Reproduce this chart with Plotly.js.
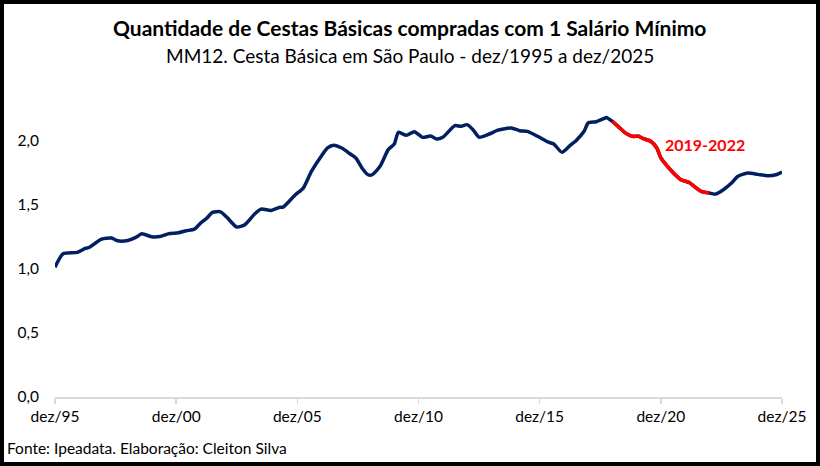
<!DOCTYPE html>
<html>
<head>
<meta charset="utf-8">
<script src="https://cdn.plot.ly/plotly-3.0.1.min.js"></script>
<style>
  body { margin: 0; background: #fff; }
  #wrap { position: relative; width: 820px; height: 466px; }
  #chart { position: absolute; left: 0; top: 0; width: 820px; height: 466px; }
  #frame { position: absolute; left: 0; top: 0; width: 820px; height: 466px;
           box-sizing: border-box; border: 4px solid #000; pointer-events: none; }
</style>
</head>
<body>
<div id="wrap">
  <div id="chart"></div>
  <div id="frame"></div>
</div>
<script>
// datas (mês) e quantidade de cestas (MM12)
var datas = [
  "1995-12", "1996-04", "1996-11", "1997-03", "1997-05", "1997-11", "1998-04", "1998-07",
  "1998-12", "1999-04", "1999-07", "1999-12", "2000-04", "2000-08", "2001-01", "2001-05",
  "2001-09", "2001-12", "2002-03", "2002-06", "2002-10", "2003-01", "2003-06", "2003-10",
  "2004-03", "2004-06", "2004-11", "2005-03", "2005-05", "2005-11", "2006-03", "2006-07",
  "2006-12", "2007-03", "2007-06", "2007-10", "2008-02", "2008-05", "2008-08", "2008-11",
  "2009-01", "2009-05", "2009-09", "2009-12", "2010-02", "2010-06", "2010-10", "2011-02",
  "2011-06", "2011-09", "2011-12", "2012-06", "2012-09", "2012-12", "2013-03", "2013-06",
  "2013-11", "2014-03", "2014-06", "2014-10", "2015-02", "2015-06", "2015-11", "2016-04",
  "2016-07", "2016-11", "2017-03", "2017-06", "2017-10", "2017-12", "2018-04", "2018-08",
  "2018-09", "2018-12", "2019-03", "2019-07", "2019-10", "2020-01", "2020-03", "2020-07",
  "2020-10", "2020-12", "2021-03", "2021-06", "2021-10", "2022-02", "2022-05", "2022-08",
  "2022-12", "2023-03", "2023-07", "2023-11", "2024-02", "2024-07", "2024-12", "2025-05",
  "2025-09", "2025-12"
];
var cestas = [
  1.013, 1.117, 1.128, 1.160, 1.167, 1.232, 1.240, 1.219,
  1.221, 1.245, 1.273, 1.250, 1.252, 1.273, 1.281, 1.297,
  1.310, 1.356, 1.393, 1.440, 1.445, 1.404, 1.326, 1.344,
  1.430, 1.466, 1.456, 1.479, 1.482, 1.578, 1.630, 1.760,
  1.883, 1.943, 1.965, 1.943, 1.898, 1.865, 1.787, 1.734,
  1.734, 1.800, 1.930, 1.974, 2.065, 2.042, 2.070, 2.026,
  2.036, 2.013, 2.026, 2.117, 2.112, 2.125, 2.086, 2.027,
  2.052, 2.080, 2.091, 2.099, 2.078, 2.073, 2.034, 1.990,
  1.974, 1.909, 1.961, 2.000, 2.073, 2.138, 2.148, 2.174,
  2.180, 2.150, 2.110, 2.055, 2.034, 2.034, 2.018, 1.995,
  1.943, 1.865, 1.805, 1.752, 1.695, 1.674, 1.638, 1.604,
  1.591, 1.583, 1.617, 1.669, 1.721, 1.747, 1.737, 1.727,
  1.734, 1.755
];

// período destacado em vermelho
var inicioDestaque = "2018-12";
var fimDestaque = "2022-12";

// marcas do eixo x
var ticksX = ["1995-12-01", "2000-12-01", "2005-12-01", "2010-12-01", "2015-12-01", "2020-12-01", "2025-12-01"];
var ticksXTexto = ["dez/95", "dez/00", "dez/05", "dez/10", "dez/15", "dez/20", "dez/25"];
var ticksY = [0, 0.5, 1, 1.5, 2];

var datasDestaque = [], cestasDestaque = [];
datas.forEach(function (d, i) {
  if (d >= inicioDestaque && d <= fimDestaque) {
    datasDestaque.push(d);
    cestasDestaque.push(cestas[i]);
  }
});

var fonte = "Lato, 'Open Sans', sans-serif";

var serie = {
  x: datas, y: cestas, type: "scatter", mode: "lines",
  line: { color: "#002060", width: 3.5, shape: "spline", smoothing: 0.6 },
  hoverinfo: "none"
};
var destaque = {
  x: datasDestaque, y: cestasDestaque, type: "scatter", mode: "lines",
  line: { color: "#ff0000", width: 3.5, shape: "spline", smoothing: 0.6 },
  hoverinfo: "none"
};

var layout = {
  width: 820, height: 466,
  margin: { l: 55, r: 38, t: 83, b: 69 },
  paper_bgcolor: "#fff", plot_bgcolor: "#fff",
  showlegend: false,
  separators: ",.",
  font: { family: fonte, color: "#000", size: 15 },
  xaxis: {
    type: "date",
    range: ["1995-12-01", "2025-12-01"],
    tickvals: ticksX, ticktext: ticksXTexto,
    showgrid: false, zeroline: false,
    showline: true, linecolor: "#d9d9d9", linewidth: 1.5,
    ticks: "outside", ticklen: 5, tickcolor: "#d9d9d9", tickwidth: 1.5,
    tickfont: { size: 15.5 }
  },
  yaxis: {
    range: [0, 2.45],
    tickvals: ticksY, tickformat: ".1f",
    showgrid: false, zeroline: false, showline: false,
    ticks: "outside", ticklen: 12, tickcolor: "rgba(0,0,0,0)",
    tickfont: { size: 15.5 }
  },
  annotations: [
    {
      text: "<b>Quantidade de Cestas Básicas compradas com 1 Salário Mínimo</b>",
      xref: "paper", yref: "paper", x: 0.488, y: 1.178,
      xanchor: "center", yanchor: "middle", showarrow: false,
      font: { size: 21, color: "#000" }
    },
    {
      text: "MM12. Cesta Básica em São Paulo - dez/1995 a dez/2025",
      xref: "paper", yref: "paper", x: 0.488, y: 1.086,
      xanchor: "center", yanchor: "middle", showarrow: false,
      font: { size: 19, color: "#000" }
    },
    {
      text: "<b>2019-2022</b>",
      xref: "paper", yref: "paper", x: (705 - 55) / 727, y: (397 - 144) / 314,
      xanchor: "center", yanchor: "middle", showarrow: false,
      font: { size: 16, color: "#ff0000" }
    },
    {
      text: "Fonte: Ipeadata. Elaboração: Cleiton Silva",
      xref: "paper", yref: "paper", x: (5 - 55) / 727, y: (397 - 448) / 314,
      xanchor: "left", yanchor: "middle", showarrow: false,
      font: { size: 15.5, color: "#000" }
    }
  ]
};

Plotly.newPlot("chart", [serie, destaque], layout, { displayModeBar: false, staticPlot: true });
</script>
</body>
</html>
